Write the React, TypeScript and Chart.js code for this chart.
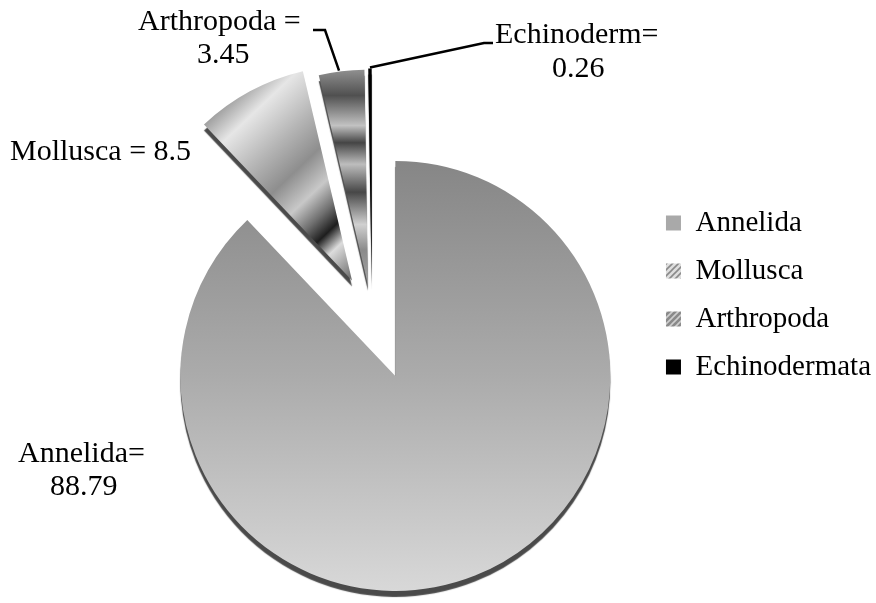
import React, { useEffect, useRef } from 'react';
import { Chart, registerables } from 'chart.js';

Chart.register(...registerables);

// ---- data ----
const categories = ['Annelida', 'Mollusca', 'Arthropoda', 'Echinodermata'];
const values = [88.79, 8.5, 3.45, 0.26];
const calloutNames = ['Annelida=', 'Mollusca =', 'Arthropoda =', 'Echinoderm='];

// ---- style ----
const SERIF = '"Liberation Serif", "Times New Roman", Times, serif';
const EXPLODE = [63, 42, 33, 34];
const RADIUS = 215;

// text anchor positions for each callout line [x, baseline]
const CALLOUT_POS: number[][][] = [
  [[18, 462], [50, 495]],
  [[10, 160]],
  [[138, 30], [197, 63]],
  [[495, 43], [552, 77]],
];
// leader lines: start polyline, then to a point on the slice's outer arc (fraction of its sweep)
const LEADERS: { idx: number; pts: number[][]; frac: number }[] = [
  { idx: 2, pts: [[313, 30], [325, 30]], frac: 0.45 },
  { idx: 3, pts: [[493, 43], [484, 43]], frac: 0.5 },
];

function calloutLines(i: number): string[] {
  if (i === 1) return [`${calloutNames[i]} ${values[i]}`];
  return [calloutNames[i], String(values[i])];
}

function addStops(g: CanvasGradient, stops: [number, string][]) {
  stops.forEach(([o, c]) => g.addColorStop(o, c));
  return g;
}

function sliceFill(ctx: CanvasRenderingContext2D, el: any, i: number): any {
  const R = el.outerRadius;
  if (i === 0) {
    const g = ctx.createLinearGradient(0, el.y - R, 0, el.y + R);
    return addStops(g, [[0, '#868686'], [0.5, '#ababab'], [1, '#d8d8d8']]);
  }
  if (i === 1) {
    const x0 = el.x + Math.cos(el.startAngle) * R;
    const y0 = el.y + Math.sin(el.startAngle) * R;
    const g = ctx.createLinearGradient(x0, y0, el.x, el.y);
    return addStops(g, [
      [0, '#a0a0a0'], [0.12, '#e6e6e6'], [0.3, '#b5b5b5'], [0.45, '#8e8e8e'],
      [0.58, '#c8c8c8'], [0.68, '#707070'], [0.76, '#1e1e1e'], [0.84, '#dcdcdc'],
      [0.93, '#9a9a9a'], [1, '#666666'],
    ]);
  }
  if (i === 2) {
    const g = ctx.createLinearGradient(0, el.y - R, 0, el.y);
    return addStops(g, [
      [0, '#909090'], [0.12, '#505050'], [0.26, '#c2c2c2'], [0.34, '#454545'],
      [0.44, '#bdbdbd'], [0.57, '#474747'], [0.72, '#d0d0d0'], [0.84, '#8a8a8a'], [1, '#a5a5a5'],
    ]);
  }
  return '#000000';
}

function stripe(ctx: CanvasRenderingContext2D, bg: string, fg: string) {
  const c = document.createElement('canvas');
  c.width = 6; c.height = 6;
  const g = c.getContext('2d')!;
  g.fillStyle = bg; g.fillRect(0, 0, 6, 6);
  g.strokeStyle = fg; g.lineWidth = 1.6;
  g.beginPath();
  g.moveTo(0, 6); g.lineTo(6, 0);
  g.moveTo(-3, 3); g.lineTo(3, -3);
  g.moveTo(3, 9); g.lineTo(9, 3);
  g.stroke();
  return ctx.createPattern(c, 'repeat');
}

const piePlugin = {
  id: 'pieStyle',
  afterDatasetUpdate(chart: any, args: any) {
    const ctx = chart.ctx;
    args.meta.data.forEach((el: any, i: number) => {
      const mid = (el.startAngle + el.endAngle) / 2;
      const d = EXPLODE[i] || 0;
      el.x += Math.cos(mid) * d;
      el.y += Math.sin(mid) * d;
      el.options = Object.assign({}, el.options, { backgroundColor: sliceFill(ctx, el, i) });
    });
  },
  beforeDatasetsDraw(chart: any) {
    const ctx = chart.ctx;
    ctx.save();
    ctx.shadowColor = '#4a4a4a';
    ctx.shadowOffsetX = 0;
    ctx.shadowOffsetY = 6;
    ctx.shadowBlur = 1;
  },
  afterDatasetsDraw(chart: any) {
    chart.ctx.restore();
  },
  afterDraw(chart: any) {
    const ctx = chart.ctx;
    const meta = chart.getDatasetMeta(0);
    ctx.save();
    ctx.fillStyle = '#000';
    ctx.font = `30px ${SERIF}`;
    ctx.textAlign = 'left';
    ctx.textBaseline = 'alphabetic';
    categories.forEach((_, i) => {
      const lines = calloutLines(i);
      lines.forEach((t, k) => {
        const p = CALLOUT_POS[i][k];
        ctx.fillText(t, p[0], p[1]);
      });
    });
    ctx.strokeStyle = '#000';
    ctx.lineWidth = 2.5;
    ctx.lineJoin = 'miter';
    LEADERS.forEach((L) => {
      const el = meta.data[L.idx];
      if (!el) return;
      const a = el.startAngle + (el.endAngle - el.startAngle) * L.frac;
      const ex = el.x + Math.cos(a) * (el.outerRadius + 1);
      const ey = el.y + Math.sin(a) * (el.outerRadius + 1);
      ctx.beginPath();
      ctx.moveTo(L.pts[0][0], L.pts[0][1]);
      for (let k = 1; k < L.pts.length; k++) ctx.lineTo(L.pts[k][0], L.pts[k][1]);
      ctx.lineTo(ex, ey);
      ctx.stroke();
    });
    ctx.restore();
  },
};

export default function App() {
  const ref = useRef<HTMLCanvasElement | null>(null);
  useEffect(() => {
    document.body.style.margin = '0';
    const canvas = ref.current!;
    const chart = new Chart(canvas, {
      type: 'pie',
      data: {
        labels: categories,
        datasets: [
          {
            data: values,
            radius: RADIUS,
            borderWidth: 0,
            offset: 0,
            backgroundColor: ['#aaaaaa', '#bbbbbb', '#888888', '#000000'],
          } as any,
        ],
      },
      options: {
        responsive: false,
        animation: false,
        devicePixelRatio: 1,
        events: [],
        layout: { padding: { left: 97, right: -5, top: 189.5, bottom: 157.7 } },
        plugins: {
          tooltip: { enabled: false },
          legend: {
            position: 'right',
            align: 'start',
            labels: {
              boxWidth: 15,
              boxHeight: 15,
              padding: 19,
              color: '#000',
              font: { size: 29, family: SERIF },
              generateLabels: (ch: any) => {
                const c = ch.ctx;
                const fills = ['#a9a9a9', stripe(c, '#dedede', '#8a8a8a'), stripe(c, '#8a8a8a', '#cfcfcf'), '#000000'];
                return categories.map((t, i) => ({
                  text: t,
                  fillStyle: fills[i],
                  strokeStyle: 'rgba(0,0,0,0)',
                  lineWidth: 0,
                  hidden: false,
                  index: i,
                  datasetIndex: 0,
                  fontColor: '#000',
                }));
              },
            },
          },
        },
      } as any,
      plugins: [piePlugin as any],
    });
    return () => chart.destroy();
  }, []);
  return (
    <div style={{ width: 876, height: 603, background: '#fff' }}>
      <canvas ref={ref} width={876} height={603} style={{ display: 'block' }} />
    </div>
  );
}
